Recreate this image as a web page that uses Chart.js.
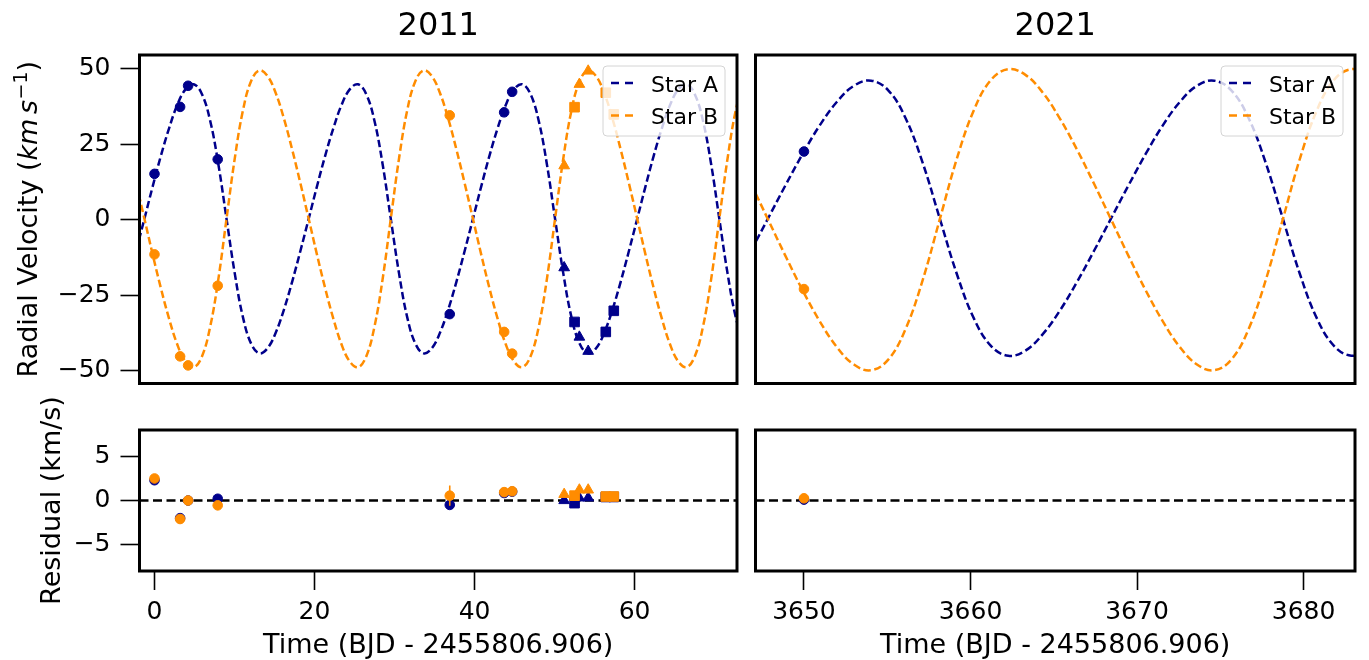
<!DOCTYPE html>
<html>
<head>
<meta charset="utf-8">
<script src="https://cdn.jsdelivr.net/npm/chart.js@4.4.0/dist/chart.umd.min.js"></script>
<style>
  body { margin: 0; background: #fff; width: 1369px; height: 660px; overflow: hidden; position: relative; }
  canvas { position: absolute; }
</style>
</head>
<body>
<canvas id="rv2011" width="747" height="394" style="left:0;top:0"></canvas>
<canvas id="rv2021" width="622" height="394" style="left:747px;top:0"></canvas>
<canvas id="res2011" width="747" height="265" style="left:0;top:395px"></canvas>
<canvas id="res2021" width="622" height="265" style="left:747px;top:395px"></canvas>
<script>
// ================================
// DATA
// ================================
const panelTitles = ["2011", "2021"];
const legendLabels = ["Star A", "Star B"];
const timeTitle = "Time (BJD - 2455806.906)";
const residualTitle = "Residual (km/s)";

const xRange2011 = [-1.875, 72.8];
const xRange2021 = [3647.09, 3683.09];
const rvRange = [-54.3, 54.6];
const resRange = [-8, 8];

const xTicks2011 = [0, 20, 40, 60];
const xTicks2021 = [3650, 3660, 3670, 3680];
const rvTicks = [-50, -25, 0, 25, 50];
const resTicks = [-5, 0, 5];

// model curves
const modelTimes2011 = [
  -2.29, -1.26, -0.24, 0.79, 1.82, 2.84, 3.87, 4.90, 5.92, 6.95,
  7.98, 9.00, 10.03, 11.05, 12.08, 13.11, 14.13, 15.16, 16.19, 17.21,
  18.24, 19.27, 20.29, 21.32, 22.35, 23.37, 24.40, 25.43, 26.45, 27.48,
  28.51, 29.53, 30.56, 31.58, 32.61, 33.64, 34.66, 35.69, 36.72, 37.74,
  38.77, 39.80, 40.82, 41.85, 42.88, 43.90, 44.93, 45.96, 46.98, 48.01,
  49.04, 50.06, 51.09, 52.11, 53.14, 54.17, 55.19, 56.22, 57.25, 58.27,
  59.30, 60.33, 61.35, 62.38, 63.41, 64.43, 65.46, 66.49, 67.51, 68.54,
  69.57, 70.59, 71.62, 72.64, 73.67
];
const modelA2011 = [
  -10.3, 0.3, 10.9, 21.1, 30.3, 38.0, 43.2, 44.9, 41.7, 32.9,
  18.4, 0.3, -17.8, -32.3, -41.1, -44.3, -42.6, -37.4, -29.7, -20.5,
  -10.3, 0.3, 10.9, 21.1, 30.3, 38.0, 43.2, 44.9, 41.7, 32.9,
  18.4, 0.3, -17.8, -32.3, -41.1, -44.3, -42.6, -37.4, -29.7, -20.5,
  -10.3, 0.3, 10.9, 21.1, 30.3, 38.0, 43.2, 44.9, 41.7, 32.9,
  18.4, 0.3, -17.8, -32.3, -41.1, -44.3, -42.6, -37.4, -29.7, -20.5,
  -10.3, 0.3, 10.9, 21.1, 30.3, 38.0, 43.2, 44.9, 41.7, 32.9,
  18.4, 0.3, -17.8, -32.3, -41.1
];
const modelB2011 = [
  12.0, 0.3, -11.4, -22.6, -32.8, -41.3, -47.0, -48.9, -45.4, -35.6,
  -19.7, 0.3, 20.3, 36.2, 46.0, 49.5, 47.6, 41.9, 33.4, 23.2,
  12.0, 0.3, -11.4, -22.6, -32.8, -41.3, -47.0, -48.9, -45.4, -35.6,
  -19.7, 0.3, 20.3, 36.2, 46.0, 49.5, 47.6, 41.9, 33.4, 23.2,
  12.0, 0.3, -11.4, -22.6, -32.8, -41.3, -47.0, -48.9, -45.4, -35.6,
  -19.7, 0.3, 20.3, 36.2, 46.0, 49.5, 47.6, 41.9, 33.4, 23.2,
  12.0, 0.3, -11.4, -22.6, -32.8, -41.3, -47.0, -48.9, -45.4, -35.6,
  -19.7, 0.3, 20.3, 36.2, 46.0
];
const modelTimes2021 = [
  3646.82, 3647.85, 3648.88, 3649.91, 3650.94, 3651.97, 3653.00, 3654.03, 3655.06, 3656.09,
  3657.12, 3658.15, 3659.18, 3660.21, 3661.24, 3662.27, 3663.30, 3664.33, 3665.36, 3666.39,
  3667.42, 3668.45, 3669.48, 3670.51, 3671.54, 3672.57, 3673.60, 3674.63, 3675.66, 3676.69,
  3677.72, 3678.75, 3679.78, 3680.81, 3681.84, 3682.87, 3683.90
];
const modelA2021 = [
  -10.3, 0.5, 11.3, 21.7, 31.2, 39.0, 44.4, 46.1, 42.9, 33.8,
  19.0, 0.5, -18.0, -32.8, -41.9, -45.1, -43.4, -38.0, -30.2, -20.7,
  -10.3, 0.5, 11.3, 21.7, 31.2, 39.0, 44.4, 46.1, 42.9, 33.8,
  19.0, 0.5, -18.0, -32.8, -41.9, -45.1, -43.4
];
const modelB2021 = [
  11.9, 0.0, -11.9, -23.3, -33.6, -42.2, -48.0, -49.9, -46.4, -36.4,
  -20.2, 0.0, 20.2, 36.4, 46.4, 49.9, 48.0, 42.2, 33.6, 23.3,
  11.9, 0.0, -11.9, -23.3, -33.6, -42.2, -48.0, -49.9, -46.4, -36.4,
  -20.2, 0.0, 20.2, 36.4, 46.4, 49.9, 48.0
];

// observations
const circleTimes2011 = [0.0, 3.2, 4.2, 7.9, 36.9, 43.7, 44.7];
const circleA2011 = [15.2, 37.4, 44.4, 20.0, -31.3, 35.6, 42.4];
const circleB2011 = [-11.5, -45.3, -48.3, -21.9, 34.6, -37.2, -44.4];
const triangleTimes2011 = [51.2, 53.1, 54.2];
const triangleA2011 = [-15.9, -38.9, -43.6];
const triangleB2011 = [17.9, 44.9, 49.3];
const squareTimes2011 = [52.5, 56.4, 57.4];
const squareA2011 = [-33.9, -37.2, -30.2];
const squareB2011 = [37.3, 42.1, 34.9];
const circleTimes2021 = [3650.0];
const circleA2021 = [22.6];
const circleB2021 = [-23.0];

// residuals
const circleResA2011 = [2.3, -2.0, 0.0, 0.2, -0.5, 0.85, 1.0];
const circleResB2011 = [2.5, -2.1, 0.0, -0.55, 0.55, 0.95, 1.05];
const circleErrB2011 = [0, 0, 0, 0, 1.15, 0, 0];
const triangleResA2011 = [0.0, 0.3, 0.3];
const triangleResB2011 = [0.7, 1.2, 1.2];
const squareResA2011 = [-0.3, 0.4, 0.4];
const squareResB2011 = [0.55, 0.45, 0.45];
const circleResA2021 = [0.1];
const circleResB2021 = [0.25];

// ================================
// STYLE HELPERS
// ================================
const NAVY = "#00008b";
const ORANGE = "#ff8c00";
const FONT = "'DejaVu Sans', sans-serif";

const pts = (xs, ys) => xs.map((x, i) => ({ x: x, y: ys[i] }));

function curve(xs, ys, color, order) {
  return {
    data: pts(xs, ys), showLine: true, borderColor: color, borderWidth: 2.5,
    borderDash: [7.5, 3.5], pointRadius: 0, tension: 0.4, order: order
  };
}

function marks(xs, ys, color, style, r, order) {
  return {
    data: pts(xs, ys), showLine: false, pointStyle: style, pointRadius: r,
    backgroundColor: color, borderColor: color, borderWidth: 1, order: order
  };
}

// vertical error bars: one short line per point, broken apart with nulls
function errorBars(xs, ys, errs, color, order) {
  const data = [];
  xs.forEach((x, i) => {
    if (!errs[i]) return;
    data.push({ x: x, y: ys[i] - errs[i] }, { x: x, y: ys[i] + errs[i] }, { x: x, y: null });
  });
  return {
    data: data, showLine: true, spanGaps: false, borderColor: color, borderWidth: 1.6,
    pointRadius: 0, order: order
  };
}

function zeroLine(range) {
  return {
    data: pts(range, [0, 0]), showLine: true, borderColor: "#000", borderWidth: 2.4,
    borderDash: [9, 4.5], pointRadius: 0, order: 20
  };
}

function axis(range, ticks, show, size, isX) {
  return {
    type: "linear", min: range[0], max: range[1], display: show,
    afterBuildTicks: s => { s.ticks = ticks.map(v => ({ value: v })); },
    afterFit: s => {
      if (isX) s.height = size; else s.width = size;
      s.paddingTop = 0; s.paddingBottom = 0; s.paddingLeft = 0; s.paddingRight = 0;
    },
    grid: { drawOnChartArea: false, tickLength: 19, tickWidth: 1.6, tickColor: "#000" },
    border: { display: false },
    ticks: {
      color: "#000", font: { family: FONT, size: 25 }, padding: isX ? 7 : 10,
      maxRotation: 0, autoSkip: false,
      callback: v => String(v).replace("-", "\u2212")
    }
  };
}

// ================================
// FRAME, LEGEND AND TEXT
// ================================
function drawLegend(ctx, a) {
  const w = 122, h = 70, x = a.right - 12 - w, y = a.top + 11;
  ctx.beginPath();
  ctx.roundRect(x, y, w, h, 4);
  ctx.fillStyle = "rgba(255,255,255,0.8)";
  ctx.fill();
  ctx.strokeStyle = "#d4d4d4";
  ctx.lineWidth = 1;
  ctx.stroke();
  [NAVY, ORANGE].forEach((c, i) => {
    const cy = y + 17 + i * 32.5;
    ctx.beginPath();
    ctx.setLineDash([8, 6]);
    ctx.strokeStyle = c;
    ctx.lineWidth = 2.5;
    ctx.moveTo(x + 8, cy);
    ctx.lineTo(x + 30, cy);
    ctx.stroke();
    ctx.setLineDash([]);
    ctx.fillStyle = "#000";
    ctx.font = "22px " + FONT;
    ctx.textAlign = "left";
    ctx.textBaseline = "alphabetic";
    ctx.fillText(legendLabels[i], x + 48, cy + 8.5);
  });
}

function drawRvTitle(ctx, x, y) {
  const n = "27px " + FONT, it = "italic 27px " + FONT, sup = "19px " + FONT;
  const segs = [
    { t: "Radial Velocity (", f: n, dy: 0, gap: 0 },
    { t: "km", f: it, dy: 0, gap: 4.5 },
    { t: "s", f: it, dy: 0, gap: 0.5 },
    { t: "\u22121", f: sup, dy: -10, gap: 0 },
    { t: ")", f: n, dy: 0, gap: 0 }
  ];
  let total = 0;
  segs.forEach(s => { ctx.font = s.f; s.w = ctx.measureText(s.t).width; total += s.w + s.gap; });
  ctx.save();
  ctx.translate(x, y);
  ctx.rotate(-Math.PI / 2);
  ctx.fillStyle = "#000";
  ctx.textAlign = "left";
  ctx.textBaseline = "alphabetic";
  let u = -total / 2;
  segs.forEach(s => { ctx.font = s.f; ctx.fillText(s.t, u, s.dy); u += s.w + s.gap; });
  ctx.restore();
}

function decorPlugin(cfg) {
  return {
    id: "decor",
    afterDraw(chart) {
      const ctx = chart.ctx, a = chart.chartArea;
      const cx = (a.left + a.right) / 2, cy = (a.top + a.bottom) / 2;
      ctx.save();
      ctx.strokeStyle = "#000";
      ctx.lineWidth = 3;
      ctx.strokeRect(a.left, a.top, a.right - a.left, a.bottom - a.top);
      if (cfg.legend) drawLegend(ctx, a);
      ctx.fillStyle = "#000";
      ctx.textAlign = "center";
      ctx.textBaseline = "alphabetic";
      if (cfg.title) {
        ctx.font = "32px " + FONT;
        ctx.fillText(cfg.title, cx, a.top - 20);
      }
      if (cfg.xTitle) {
        ctx.font = "27px " + FONT;
        ctx.fillText(timeTitle, cx, a.bottom + 82);
      }
      if (cfg.resTitle) {
        ctx.save();
        ctx.translate(a.left - 79.5, cy);
        ctx.rotate(-Math.PI / 2);
        ctx.font = "27px " + FONT;
        ctx.fillText(residualTitle, 0, 0);
        ctx.restore();
      }
      if (cfg.rvTitle) drawRvTitle(ctx, a.left - 103, cy);
      ctx.restore();
    }
  };
}

function makeChart(id, cfg) {
  return new Chart(document.getElementById(id), {
    type: "scatter",
    data: { datasets: cfg.datasets },
    options: {
      responsive: false,
      animation: false,
      events: [],
      layout: { padding: cfg.padding },
      plugins: { legend: { display: false }, tooltip: { enabled: false } },
      scales: { x: cfg.x, y: cfg.y }
    },
    plugins: [decorPlugin(cfg.decor)]
  });
}

// ================================
// RADIAL VELOCITY PANELS
// ================================
makeChart("rv2011", {
  padding: { left: 0, right: 10, top: 55, bottom: 10.5 },
  x: axis(xRange2011, [], false, 0, true),
  y: axis(rvRange, rvTicks, true, 139.5, false),
  decor: { title: panelTitles[0], legend: true, rvTitle: true },
  datasets: [
    curve(modelTimes2011, modelA2011, NAVY, 11),
    curve(modelTimes2011, modelB2011, ORANGE, 10),
    marks(circleTimes2011, circleA2011, NAVY, "circle", 4.8, 5),
    marks(triangleTimes2011, triangleA2011, NAVY, "triangle", 6.2, 5),
    marks(squareTimes2011, squareA2011, NAVY, "rect", 6.8, 5),
    marks(circleTimes2011, circleB2011, ORANGE, "circle", 4.8, 4),
    marks(triangleTimes2011, triangleB2011, ORANGE, "triangle", 6.2, 4),
    marks(squareTimes2011, squareB2011, ORANGE, "rect", 6.8, 4)
  ]
});

makeChart("rv2021", {
  padding: { left: 8.5, right: 14, top: 55, bottom: 10.5 },
  x: axis(xRange2021, [], false, 0, true),
  y: axis(rvRange, rvTicks, false, 0, false),
  decor: { title: panelTitles[1], legend: true },
  datasets: [
    curve(modelTimes2021, modelA2021, NAVY, 11),
    curve(modelTimes2021, modelB2021, ORANGE, 10),
    marks(circleTimes2021, circleA2021, NAVY, "circle", 4.8, 5),
    marks(circleTimes2021, circleB2021, ORANGE, "circle", 4.8, 4)
  ]
});

// ================================
// RESIDUAL PANELS
// ================================
makeChart("res2011", {
  padding: { left: 0, right: 10, top: 35, bottom: 0 },
  x: axis(xRange2011, xTicks2011, true, 89, true),
  y: axis(resRange, resTicks, true, 139.5, false),
  decor: { xTitle: true, resTitle: true },
  datasets: [
    zeroLine(xRange2011),
    marks(circleTimes2011, circleResA2011, NAVY, "circle", 4.8, 5),
    marks(triangleTimes2011, triangleResA2011, NAVY, "triangle", 6.2, 5),
    marks(squareTimes2011, squareResA2011, NAVY, "rect", 6.8, 5),
    errorBars(circleTimes2011, circleResB2011, circleErrB2011, ORANGE, 4),
    marks(circleTimes2011, circleResB2011, ORANGE, "circle", 4.8, 4),
    marks(triangleTimes2011, triangleResB2011, ORANGE, "triangle", 6.2, 4),
    marks(squareTimes2011, squareResB2011, ORANGE, "rect", 6.8, 4)
  ]
});

makeChart("res2021", {
  padding: { left: 8.5, right: 14, top: 35, bottom: 0 },
  x: axis(xRange2021, xTicks2021, true, 89, true),
  y: axis(resRange, resTicks, false, 0, false),
  decor: { xTitle: true },
  datasets: [
    zeroLine(xRange2021),
    marks(circleTimes2021, circleResA2021, NAVY, "circle", 4.8, 5),
    marks(circleTimes2021, circleResB2021, ORANGE, "circle", 4.8, 4)
  ]
});
</script>
</body>
</html>
